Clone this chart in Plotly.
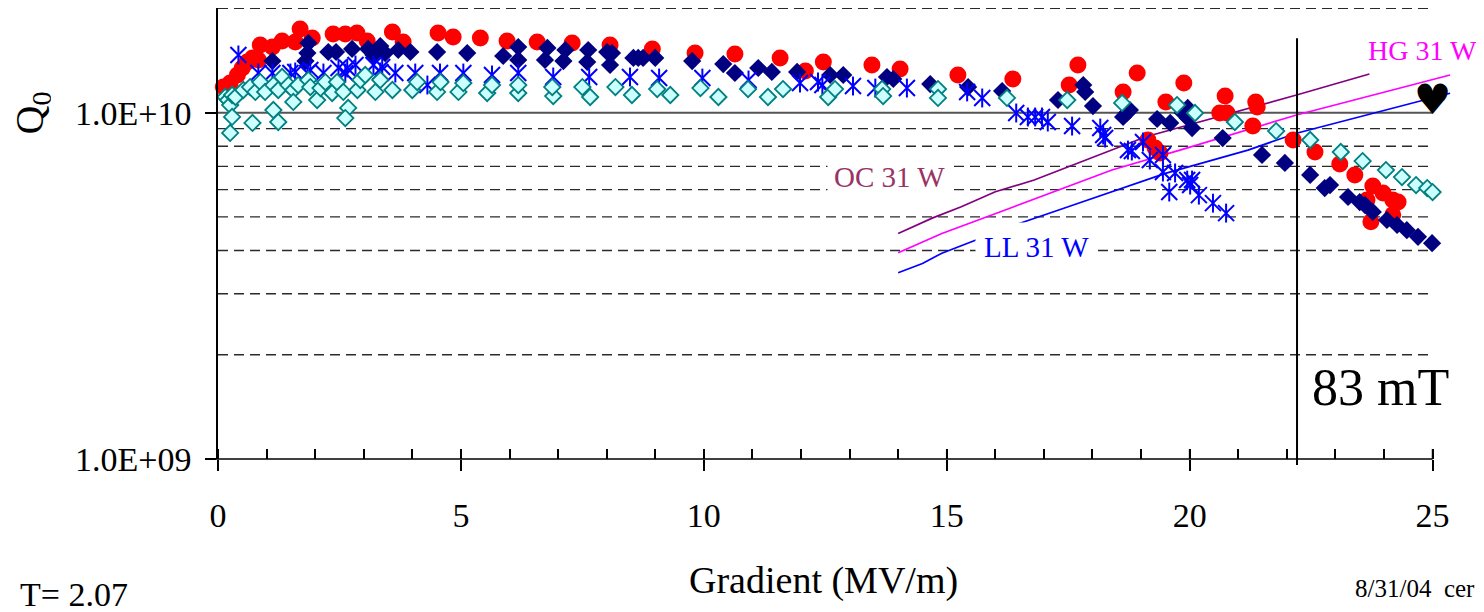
import numpy as np
import plotly.graph_objects as go

# ---------------- data (Q0 in units of 1e10) ----------------
red_x = [0.11,0.25,0.40,0.50,0.60,0.71,0.83,0.87,1.12,1.32,1.59,1.69,1.94,2.37,2.62,2.86,3.07,3.59,3.81,4.53,4.84,5.40,5.95,6.57,7.29,8.07,8.94,9.82,10.64,11.57,12.09,12.46,13.46,14.04,15.23,16.36,17.70,17.52,18.63,18.92,19.88,19.51,20.73,20.62,20.77,21.36,21.39,21.30,19.14,19.29,19.39,22.13,22.58,23.09,23.40,23.77,23.98,24.18,24.29,23.65,23.73,24.18]
red_q = [1.186,1.218,1.285,1.346,1.401,1.439,1.420,1.569,1.548,1.611,1.600,1.745,1.644,1.688,1.688,1.699,1.611,1.710,1.600,1.699,1.654,1.644,1.611,1.600,1.589,1.569,1.528,1.487,1.477,1.439,1.319,1.401,1.373,1.337,1.285,1.251,1.373,1.202,1.148,1.302,1.218,1.074,1.117,0.998,0.998,1.074,1.039,0.915,0.834,0.791,0.765,0.834,0.770,0.711,0.661,0.614,0.586,0.560,0.552,0.560,0.484,0.507]

navy_x = [1.12,1.86,1.84,1.80,2.27,2.43,2.76,3.09,3.34,3.20,3.44,3.71,3.96,4.51,5.13,5.87,6.18,6.18,6.78,6.73,7.15,7.11,7.62,7.60,8.01,8.11,8.07,8.55,8.65,8.75,9.00,9.76,10.40,10.64,11.12,11.40,11.92,12.60,12.87,13.77,13.90,14.66,15.44,16.14,17.29,17.81,17.85,18.01,18.63,18.77,18.71,19.33,19.60,19.96,19.86,20.05,19.96,20.68,21.49,21.96,22.48,22.78,22.89,23.26,23.50,23.61,23.77,24.06,24.27,24.47,24.70,24.99]
navy_q = [1.410,1.589,1.487,1.410,1.497,1.497,1.528,1.528,1.558,1.468,1.487,1.517,1.497,1.497,1.487,1.458,1.548,1.420,1.538,1.420,1.517,1.410,1.517,1.401,1.497,1.487,1.373,1.439,1.439,1.439,1.439,1.410,1.382,1.302,1.346,1.311,1.311,1.285,1.285,1.268,1.251,1.210,1.186,1.155,1.088,1.202,1.148,1.045,0.972,1.018,0.998,0.959,0.934,1.032,0.998,0.903,0.965,0.845,0.755,0.716,0.661,0.606,0.618,0.571,0.552,0.541,0.517,0.490,0.474,0.458,0.438,0.420]

star_x = [0.42,0.83,1.12,1.49,1.59,1.90,1.84,2.17,2.48,2.66,2.62,2.83,3.20,3.38,3.34,3.65,4.06,4.31,4.57,5.05,5.64,6.18,6.90,7.64,8.48,9.08,9.97,10.92,11.98,12.35,12.44,13.07,13.53,14.18,15.42,15.73,16.43,16.67,16.82,16.96,17.08,17.58,18.16,18.22,18.26,18.73,18.81,19.04,19.18,19.45,19.45,19.70,19.58,19.95,20.05,20.01,20.19,20.48,20.75]
star_q = [1.468,1.302,1.302,1.302,1.311,1.328,1.302,1.302,1.346,1.346,1.302,1.373,1.373,1.355,1.311,1.302,1.302,1.202,1.302,1.302,1.285,1.302,1.268,1.268,1.268,1.259,1.259,1.243,1.218,1.226,1.202,1.194,1.178,1.178,1.148,1.103,0.998,0.972,0.972,0.972,0.940,0.915,0.903,0.862,0.845,0.780,0.775,0.823,0.730,0.755,0.674,0.670,0.590,0.639,0.639,0.618,0.578,0.548,0.513]

teal_x = [0.15,0.21,0.25,0.29,0.36,0.29,0.25,0.52,0.66,0.77,0.71,0.87,0.97,1.14,1.14,1.24,1.24,1.32,1.45,1.55,1.65,1.55,1.86,1.90,2.04,2.11,2.21,2.35,2.45,2.58,2.68,2.62,2.87,2.93,3.03,3.24,3.34,3.59,4.00,4.10,4.51,4.58,4.95,5.05,5.54,5.64,6.18,6.18,6.90,6.88,7.50,7.66,8.18,8.52,9.04,9.31,9.93,10.30,10.91,11.32,11.63,12.56,12.70,13.67,13.69,14.82,14.82,16.24,17.48,18.61,19.74,20.11,20.93,21.78,22.48,23.11,23.56,24.04,24.37,24.66,24.89,25.00]
teal_q = [1.110,1.088,1.052,1.125,1.110,0.972,0.874,1.163,1.186,1.148,0.934,1.226,1.148,1.202,1.018,0.940,1.163,1.268,1.202,1.163,1.202,1.074,1.243,1.186,1.088,1.178,1.226,1.140,1.226,1.148,1.032,0.965,1.163,1.243,1.285,1.148,1.243,1.163,1.163,1.226,1.148,1.226,1.148,1.218,1.140,1.202,1.140,1.202,1.117,1.186,1.186,1.110,1.186,1.125,1.170,1.125,1.178,1.110,1.170,1.110,1.170,1.110,1.170,1.170,1.117,1.170,1.103,1.103,1.088,1.067,1.052,0.998,0.940,0.885,0.834,0.770,0.725,0.683,0.652,0.618,0.606,0.590]

oc_x = [14.0,14.7,15.3,16.0,16.8,17.6,18.4,19.1,22.2,23.7]
oc_q = [0.448,0.496,0.535,0.591,0.639,0.706,0.780,0.852,1.125,1.293]
hg_x = [14.0,14.9,16.3,17.4,18.4,19.8,22.2,25.36]
hg_q = [0.394,0.448,0.530,0.605,0.683,0.780,0.985,1.285]
ll_x = [14.0,14.5,14.9,15.6,16.4,17.5,18.4,19.5,21.2,22.2,25.36]
ll_q = [0.345,0.367,0.393,0.429,0.474,0.535,0.591,0.668,0.780,0.872,1.138]

heart_x = [25.0]
heart_q = [1.06]

field_limit_x = 22.21      # 83 mT line
field_limit_top_q = 1.64

x_major = [0, 5, 10, 15, 20, 25]
x_minor = list(range(0, 26))
y_ticks = [1e9, 1e10]
y_ticktext = ["1.0E+09", "1.0E+10"]
grid_dashed = [2e9, 3e9, 4e9, 5e9, 6e9, 7e9, 8e9, 9e9, 2e10]
grid_solid = [1e10]

SCALE = 1e10

def sc(v):
    return [q * SCALE for q in v]

# ---------------- layout geometry ----------------
OFF = 8                       # page body margin
W, H = 1476, 604
ML, MR, MT, MB = 210, 32, 0, 153
PW, PH = W - ML - MR, H - MT - MB
XR = [0, 25.4]
YLO, YHI = 9.0, 9.0 + PH / 346.3

def yp(q):
    return (np.log10(q) - YLO) / (YHI - YLO)

def px2x(px):                 # screen px -> paper
    return (px - OFF - ML) / PW

def py2y(py):                 # screen py -> paper
    return (H - MB - (py - OFF)) / PH

SERIF = "Liberation Serif, Times New Roman, serif"

fig = go.Figure()

# fit lines
fig.add_trace(go.Scatter(x=oc_x, y=sc(oc_q), mode="lines",
                         line=dict(color="#800080", width=1.7), hoverinfo="skip"))
fig.add_trace(go.Scatter(x=hg_x, y=sc(hg_q), mode="lines",
                         line=dict(color="#FF00FF", width=1.7), hoverinfo="skip"))
fig.add_trace(go.Scatter(x=ll_x, y=sc(ll_q), mode="lines",
                         line=dict(color="#0000FF", width=1.7), hoverinfo="skip"))

# data series
fig.add_trace(go.Scatter(x=red_x, y=sc(red_q), mode="markers", cliponaxis=False,
                         marker=dict(symbol="circle", size=17, color="#FF0000",
                                     line=dict(width=0))))
fig.add_trace(go.Scatter(x=navy_x, y=sc(navy_q), mode="markers", cliponaxis=False,
                         marker=dict(symbol="diamond", size=14, color="#000080",
                                     line=dict(width=0))))
fig.add_trace(go.Scatter(x=star_x, y=sc(star_q), mode="markers", cliponaxis=False,
                         marker=dict(symbol="x-thin-open", size=16, color="#0000FF",
                                     line=dict(width=2, color="#0000FF"))))
fig.add_trace(go.Scatter(x=star_x, y=sc(star_q), mode="markers", cliponaxis=False,
                         marker=dict(symbol="line-ns-open", size=13.5, color="#0000FF",
                                     line=dict(width=2, color="#0000FF"))))
fig.add_trace(go.Scatter(x=teal_x, y=sc(teal_q), mode="markers", cliponaxis=False,
                         marker=dict(symbol="diamond", size=12.5, color="#CCFFFF",
                                     line=dict(width=1.8, color="#008080"))))
fig.add_trace(go.Scatter(x=heart_x, y=sc(heart_q), mode="text", text=["\u2665"],
                         cliponaxis=False, textposition="middle center",
                         textfont=dict(family="DejaVu Sans", size=42, color="#000000")))

shapes = []
# gridlines
for g in grid_dashed:
    shapes.append(dict(type="line", xref="x", yref="paper", x0=0, x1=25,
                       y0=yp(g), y1=yp(g), layer="below",
                       line=dict(color="#2a2a2a", width=1.3, dash="10px,6px")))
for g in grid_solid:
    shapes.append(dict(type="line", xref="x", yref="paper", x0=0, x1=25,
                       y0=yp(g), y1=yp(g), layer="below",
                       line=dict(color="#555555", width=2)))
# x axis line (extends a bit left of the y axis)
shapes.append(dict(type="line", xref="paper", yref="paper", x0=px2x(207), x1=25 / XR[1],
                   y0=0, y1=0, line=dict(color="#000000", width=1.6)))
# upward part of major x ticks
for v in x_major:
    shapes.append(dict(type="line", xref="x", yref="paper", x0=v, x1=v,
                       y0=0, y1=10 / PH, line=dict(color="#000000", width=1.6)))
# 83 mT vertical line
shapes.append(dict(type="line", xref="x", yref="paper", x0=field_limit_x, x1=field_limit_x,
                   y0=-6 / PH, y1=yp(field_limit_top_q * SCALE),
                   line=dict(color="#000000", width=2)))

ann = []
def text(s, px, py, size, color="#000000", xanchor="left", **kw):
    d = dict(text=s, x=px2x(px), y=py2y(py), xref="paper", yref="paper",
             xanchor=xanchor, yanchor="middle", showarrow=False,
             font=dict(family=SERIF, size=size, color=color))
    d.update(kw)
    ann.append(d)

text("Q<sub>0</sub>", 32, 113, 40, xanchor="center", textangle=-90, borderpad=0,
     height=38, width=52)
text("Gradient (MV/m)", 823, 580, 38, xanchor="center")
text("T= 2.07", 18, 594, 34)
text("8/31/04\u00a0 cer", 1353, 588, 25)
text("83 mT", 1310, 387, 52)
text("HG 31 W", 1366, 50, 28, color="#FF00FF")
text("OC 31 W", 890, 177, 29, color="#993366", xanchor="center", bgcolor="#FFFFFF", borderpad=6)
text("LL 31 W", 1036, 247, 29, color="#0000FF", xanchor="center", bgcolor="#FFFFFF", borderpad=8)

fig.update_layout(
    width=W, height=H, template="none", showlegend=False,
    paper_bgcolor="#FFFFFF", plot_bgcolor="#FFFFFF",
    margin=dict(l=ML, r=MR, t=MT, b=MB, pad=0),
    shapes=shapes, annotations=ann,
    xaxis=dict(range=XR, showgrid=False, zeroline=False, showline=False,
               tickvals=x_major, ticktext=[str(v) for v in x_major],
               ticks="outside", ticklen=11, tickwidth=1.6, tickcolor="#000000",
               minor=dict(tickvals=x_minor, ticks="inside", ticklen=10, tickwidth=1.6,
                          tickcolor="#000000", showgrid=False),
               tickfont=dict(family=SERIF, size=34, color="#000000"),
               ticklabelstandoff=15, automargin=False),
    yaxis=dict(type="log", range=[YLO, YHI], showgrid=False, zeroline=False,
               showline=True, linecolor="#000000", linewidth=1.6,
               tickvals=y_ticks, ticktext=y_ticktext,
               ticks="outside", ticklen=11, tickwidth=1.6, tickcolor="#000000",
               tickfont=dict(family=SERIF, size=34, color="#000000"),
               ticklabelstandoff=7, automargin=False),
)

fig.write_html("out.html")
